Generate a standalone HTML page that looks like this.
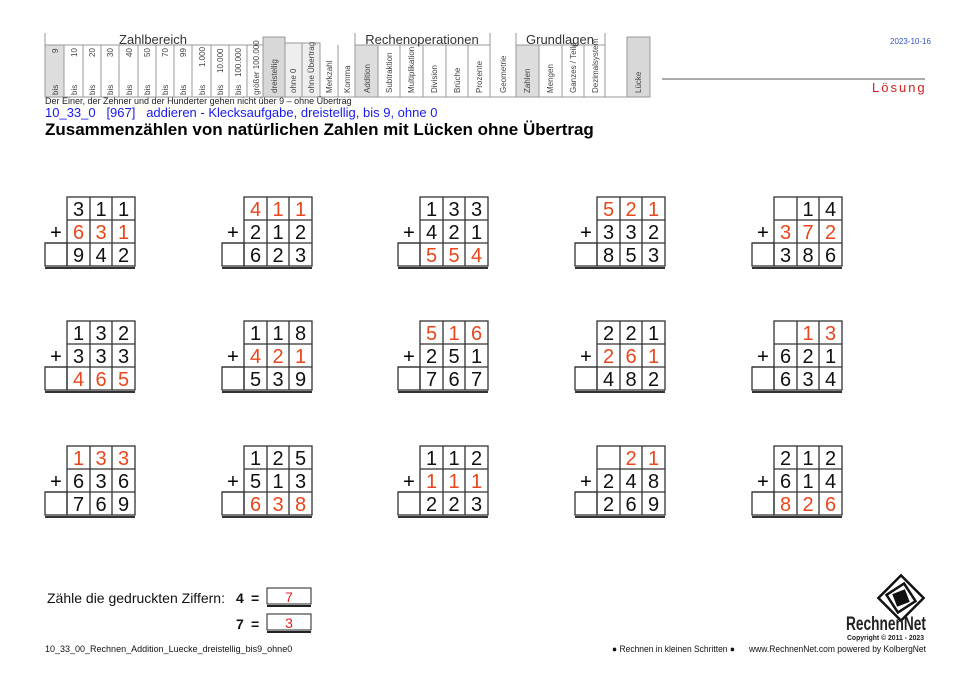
<!DOCTYPE html>
<html><head><meta charset="utf-8"><style>
body{margin:0;background:#fff;width:963px;height:681px;overflow:hidden;position:relative;font-family:"Liberation Sans",sans-serif}
text{white-space:pre}
</style></head><body>
<svg width="963" height="681" style="position:absolute;left:0;top:0" font-family="Liberation Sans, sans-serif">
<defs>
<g id="fr" fill="none" stroke="#333" stroke-width="1.3">
<rect x="22" y="0" width="68" height="69"/>
<line x1="22" y1="23" x2="90" y2="23"/><line x1="0" y1="46" x2="90" y2="46"/>
<line x1="45" y1="0" x2="45" y2="69"/><line x1="67" y1="0" x2="67" y2="69"/>
<rect x="0" y="46" width="22" height="23"/>
<line x1="0" y1="71" x2="90" y2="71" stroke-width="2"/>
<text x="11" y="42" font-size="20" fill="#000" stroke="none" text-anchor="middle">+</text>
</g>
</defs>
<!-- header table -->
<g stroke="#999" stroke-width="1" fill="none">
<rect x="45" y="45" width="19" height="52" fill="#ddd"/>
<rect x="263" y="37" width="22" height="60" fill="#d8d8d8"/>
<rect x="285" y="43" width="17" height="54" fill="#eee"/>
<rect x="302" y="43" width="18" height="54" fill="#eee"/>
<rect x="355" y="45" width="23" height="52" fill="#ddd"/>
<rect x="516" y="45" width="23" height="52" fill="#ddd"/>
<rect x="627" y="37" width="23" height="60" fill="#d8d8d8"/>
<line x1="45" y1="45" x2="263" y2="45"/><line x1="45" y1="97" x2="650" y2="97"/>
<line x1="45" y1="33" x2="45" y2="97"/>
<line x1="355" y1="45" x2="490" y2="45"/><line x1="516" y1="45" x2="605" y2="45"/>
<line x1="355" y1="33" x2="355" y2="97"/><line x1="490" y1="33" x2="490" y2="97"/>
<line x1="516" y1="33" x2="516" y2="97"/><line x1="605" y1="33" x2="605" y2="97"/>
<line x1="338" y1="45" x2="338" y2="97"/><line x1="320" y1="43" x2="320" y2="97"/>
<line x1="64" y1="45" x2="64" y2="97"/><line x1="83" y1="45" x2="83" y2="97"/><line x1="101" y1="45" x2="101" y2="97"/><line x1="119" y1="45" x2="119" y2="97"/><line x1="138" y1="45" x2="138" y2="97"/><line x1="156" y1="45" x2="156" y2="97"/><line x1="174" y1="45" x2="174" y2="97"/><line x1="192" y1="45" x2="192" y2="97"/><line x1="211" y1="45" x2="211" y2="97"/><line x1="229" y1="45" x2="229" y2="97"/><line x1="247" y1="45" x2="247" y2="97"/>
<line x1="378" y1="45" x2="378" y2="97"/><line x1="400" y1="45" x2="400" y2="97"/><line x1="423" y1="45" x2="423" y2="97"/><line x1="446" y1="45" x2="446" y2="97"/><line x1="468" y1="45" x2="468" y2="97"/>
<line x1="539" y1="45" x2="539" y2="97"/><line x1="562" y1="45" x2="562" y2="97"/><line x1="584" y1="45" x2="584" y2="97"/>
<line x1="662" y1="79" x2="925" y2="79" stroke="#555"/>
</g>
<g font-size="13" fill="#333" text-anchor="middle"><text x="153" y="44">Zahlbereich</text><text x="422" y="44">Rechenoperationen</text><text x="560" y="44">Grundlagen</text></g>
<g font-size="8" fill="#444">
<g transform="translate(58,95) rotate(-90)"><text>bis</text><text x="42">9</text></g>
<g transform="translate(77,95) rotate(-90)"><text>bis</text><text x="38">10</text></g>
<g transform="translate(95,95) rotate(-90)"><text>bis</text><text x="38">20</text></g>
<g transform="translate(113,95) rotate(-90)"><text>bis</text><text x="38">30</text></g>
<g transform="translate(132,95) rotate(-90)"><text>bis</text><text x="38">40</text></g>
<g transform="translate(150,95) rotate(-90)"><text>bis</text><text x="38">50</text></g>
<g transform="translate(168,95) rotate(-90)"><text>bis</text><text x="38">70</text></g>
<g transform="translate(186,95) rotate(-90)"><text>bis</text><text x="38">99</text></g>
<g transform="translate(205,95) rotate(-90)"><text>bis</text><text x="28">1.000</text></g>
<g transform="translate(223,95) rotate(-90)"><text>bis</text><text x="22">10.000</text></g>
<g transform="translate(241,95) rotate(-90)"><text>bis</text><text x="18">100.000</text></g>
<g transform="translate(259,95) rotate(-90)"><text>größer 100.000</text></g>
<g transform="translate(277,93) rotate(-90)"><text>dreistellig</text></g>
<g transform="translate(296,93) rotate(-90)"><text>ohne 0</text></g>
<g transform="translate(314,93) rotate(-90)"><text>ohne Übertrag</text></g>
<g transform="translate(332,93) rotate(-90)"><text>Merkzahl</text></g>
<g transform="translate(350,93) rotate(-90)"><text>Komma</text></g>
<g transform="translate(370,93) rotate(-90)"><text>Addition</text></g>
<g transform="translate(392,93) rotate(-90)"><text>Subtraktion</text></g>
<g transform="translate(414,93) rotate(-90)"><text>Multiplikation</text></g>
<g transform="translate(437,93) rotate(-90)"><text>Division</text></g>
<g transform="translate(460,93) rotate(-90)"><text>Brüche</text></g>
<g transform="translate(482,93) rotate(-90)"><text>Prozente</text></g>
<g transform="translate(506,93) rotate(-90)"><text>Geometrie</text></g>
<g transform="translate(530,93) rotate(-90)"><text>Zahlen</text></g>
<g transform="translate(553,93) rotate(-90)"><text>Mengen</text></g>
<g transform="translate(576,93) rotate(-90)"><text>Ganzes / Teile</text></g>
<g transform="translate(598,93) rotate(-90)"><text>Dezimalsystem</text></g>
<g transform="translate(641,93) rotate(-90)"><text>Lücke</text></g>
</g>
<text x="890" y="44" font-size="8" fill="#3355cc">2023-10-16</text>
<text x="872" y="92" font-size="13" fill="#d02020" letter-spacing="2">Lösung</text>
<text x="45" y="104" font-size="9" fill="#222">Der Einer, der Zehner und der Hunderter gehen nicht über 9 – ohne Übertrag</text>
<text x="45" y="117" font-size="13" fill="#1a1aee">10_33_0   [967]   addieren - Klecksaufgabe, dreistellig, bis 9, ohne 0</text>
<text x="45" y="135" font-size="17" font-weight="bold" fill="#000">Zusammenzählen von natürlichen Zahlen mit Lücken ohne Übertrag</text>

<g font-size="20" text-anchor="middle" fill="#111">
<g transform="translate(45,197)"><use href="#fr"/><text x="33.5" y="19">3</text><text x="56" y="19">1</text><text x="78.5" y="19">1</text><g fill="#e8461c"><text x="33.5" y="42">6</text><text x="56" y="42">3</text><text x="78.5" y="42">1</text></g><text x="33.5" y="65">9</text><text x="56" y="65">4</text><text x="78.5" y="65">2</text></g>
<g transform="translate(222,197)"><use href="#fr"/><g fill="#e8461c"><text x="33.5" y="19">4</text><text x="56" y="19">1</text><text x="78.5" y="19">1</text></g><text x="33.5" y="42">2</text><text x="56" y="42">1</text><text x="78.5" y="42">2</text><text x="33.5" y="65">6</text><text x="56" y="65">2</text><text x="78.5" y="65">3</text></g>
<g transform="translate(398,197)"><use href="#fr"/><text x="33.5" y="19">1</text><text x="56" y="19">3</text><text x="78.5" y="19">3</text><text x="33.5" y="42">4</text><text x="56" y="42">2</text><text x="78.5" y="42">1</text><g fill="#e8461c"><text x="33.5" y="65">5</text><text x="56" y="65">5</text><text x="78.5" y="65">4</text></g></g>
<g transform="translate(575,197)"><use href="#fr"/><g fill="#e8461c"><text x="33.5" y="19">5</text><text x="56" y="19">2</text><text x="78.5" y="19">1</text></g><text x="33.5" y="42">3</text><text x="56" y="42">3</text><text x="78.5" y="42">2</text><text x="33.5" y="65">8</text><text x="56" y="65">5</text><text x="78.5" y="65">3</text></g>
<g transform="translate(752,197)"><use href="#fr"/><text x="56" y="19">1</text><text x="78.5" y="19">4</text><g fill="#e8461c"><text x="33.5" y="42">3</text><text x="56" y="42">7</text><text x="78.5" y="42">2</text></g><text x="33.5" y="65">3</text><text x="56" y="65">8</text><text x="78.5" y="65">6</text></g>
<g transform="translate(45,321)"><use href="#fr"/><text x="33.5" y="19">1</text><text x="56" y="19">3</text><text x="78.5" y="19">2</text><text x="33.5" y="42">3</text><text x="56" y="42">3</text><text x="78.5" y="42">3</text><g fill="#e8461c"><text x="33.5" y="65">4</text><text x="56" y="65">6</text><text x="78.5" y="65">5</text></g></g>
<g transform="translate(222,321)"><use href="#fr"/><text x="33.5" y="19">1</text><text x="56" y="19">1</text><text x="78.5" y="19">8</text><g fill="#e8461c"><text x="33.5" y="42">4</text><text x="56" y="42">2</text><text x="78.5" y="42">1</text></g><text x="33.5" y="65">5</text><text x="56" y="65">3</text><text x="78.5" y="65">9</text></g>
<g transform="translate(398,321)"><use href="#fr"/><g fill="#e8461c"><text x="33.5" y="19">5</text><text x="56" y="19">1</text><text x="78.5" y="19">6</text></g><text x="33.5" y="42">2</text><text x="56" y="42">5</text><text x="78.5" y="42">1</text><text x="33.5" y="65">7</text><text x="56" y="65">6</text><text x="78.5" y="65">7</text></g>
<g transform="translate(575,321)"><use href="#fr"/><text x="33.5" y="19">2</text><text x="56" y="19">2</text><text x="78.5" y="19">1</text><g fill="#e8461c"><text x="33.5" y="42">2</text><text x="56" y="42">6</text><text x="78.5" y="42">1</text></g><text x="33.5" y="65">4</text><text x="56" y="65">8</text><text x="78.5" y="65">2</text></g>
<g transform="translate(752,321)"><use href="#fr"/><g fill="#e8461c"><text x="56" y="19">1</text><text x="78.5" y="19">3</text></g><text x="33.5" y="42">6</text><text x="56" y="42">2</text><text x="78.5" y="42">1</text><text x="33.5" y="65">6</text><text x="56" y="65">3</text><text x="78.5" y="65">4</text></g>
<g transform="translate(45,446)"><use href="#fr"/><g fill="#e8461c"><text x="33.5" y="19">1</text><text x="56" y="19">3</text><text x="78.5" y="19">3</text></g><text x="33.5" y="42">6</text><text x="56" y="42">3</text><text x="78.5" y="42">6</text><text x="33.5" y="65">7</text><text x="56" y="65">6</text><text x="78.5" y="65">9</text></g>
<g transform="translate(222,446)"><use href="#fr"/><text x="33.5" y="19">1</text><text x="56" y="19">2</text><text x="78.5" y="19">5</text><text x="33.5" y="42">5</text><text x="56" y="42">1</text><text x="78.5" y="42">3</text><g fill="#e8461c"><text x="33.5" y="65">6</text><text x="56" y="65">3</text><text x="78.5" y="65">8</text></g></g>
<g transform="translate(398,446)"><use href="#fr"/><text x="33.5" y="19">1</text><text x="56" y="19">1</text><text x="78.5" y="19">2</text><g fill="#e8461c"><text x="33.5" y="42">1</text><text x="56" y="42">1</text><text x="78.5" y="42">1</text></g><text x="33.5" y="65">2</text><text x="56" y="65">2</text><text x="78.5" y="65">3</text></g>
<g transform="translate(575,446)"><use href="#fr"/><g fill="#e8461c"><text x="56" y="19">2</text><text x="78.5" y="19">1</text></g><text x="33.5" y="42">2</text><text x="56" y="42">4</text><text x="78.5" y="42">8</text><text x="33.5" y="65">2</text><text x="56" y="65">6</text><text x="78.5" y="65">9</text></g>
<g transform="translate(752,446)"><use href="#fr"/><text x="33.5" y="19">2</text><text x="56" y="19">1</text><text x="78.5" y="19">2</text><text x="33.5" y="42">6</text><text x="56" y="42">1</text><text x="78.5" y="42">4</text><g fill="#e8461c"><text x="33.5" y="65">8</text><text x="56" y="65">2</text><text x="78.5" y="65">6</text></g></g>
</g>

<text x="47" y="603" font-size="14" fill="#111">Zähle die gedruckten Ziffern:</text>
<g font-size="14" font-weight="bold" fill="#111"><text x="236" y="603">4</text><text x="251" y="603">=</text><text x="236" y="629">7</text><text x="251" y="629">=</text></g>
<g fill="none" stroke="#222" stroke-width="1"><rect x="267" y="588" width="44" height="16"/><line x1="267" y1="606" x2="311" y2="606" stroke-width="2"/><rect x="267" y="614" width="44" height="16"/><line x1="267" y1="632" x2="311" y2="632" stroke-width="2"/></g>
<g font-size="14" fill="#e02020" text-anchor="middle"><text x="289" y="602">7</text><text x="289" y="628">3</text></g>
<text x="45" y="652" font-size="9" fill="#111">10_33_00_Rechnen_Addition_Luecke_dreistellig_bis9_ohne0</text>
<text x="612" y="652" font-size="9" fill="#111" textLength="123" lengthAdjust="spacingAndGlyphs">● Rechnen in kleinen Schritten ●</text>
<text x="749" y="652" font-size="9" fill="#111" textLength="177" lengthAdjust="spacingAndGlyphs">www.RechnenNet.com powered by KolbergNet</text>
<g transform="translate(901,598) rotate(45)" fill="none" stroke="#111" stroke-width="2.5">
<rect x="-16" y="-16" width="32" height="32"/><rect x="-10.5" y="-10.5" width="21" height="21" transform="rotate(12)"/><rect x="-5.5" y="-5.5" width="11" height="11" fill="#111" transform="rotate(24)"/>
</g>
<text x="846" y="630" font-size="19" font-weight="bold" fill="#222" textLength="80" lengthAdjust="spacingAndGlyphs">RechnenNet</text>
<text x="847" y="640" font-size="7" font-weight="bold" fill="#222" textLength="77" lengthAdjust="spacingAndGlyphs">Copyright © 2011 - 2023</text>
</svg>
</body></html>
